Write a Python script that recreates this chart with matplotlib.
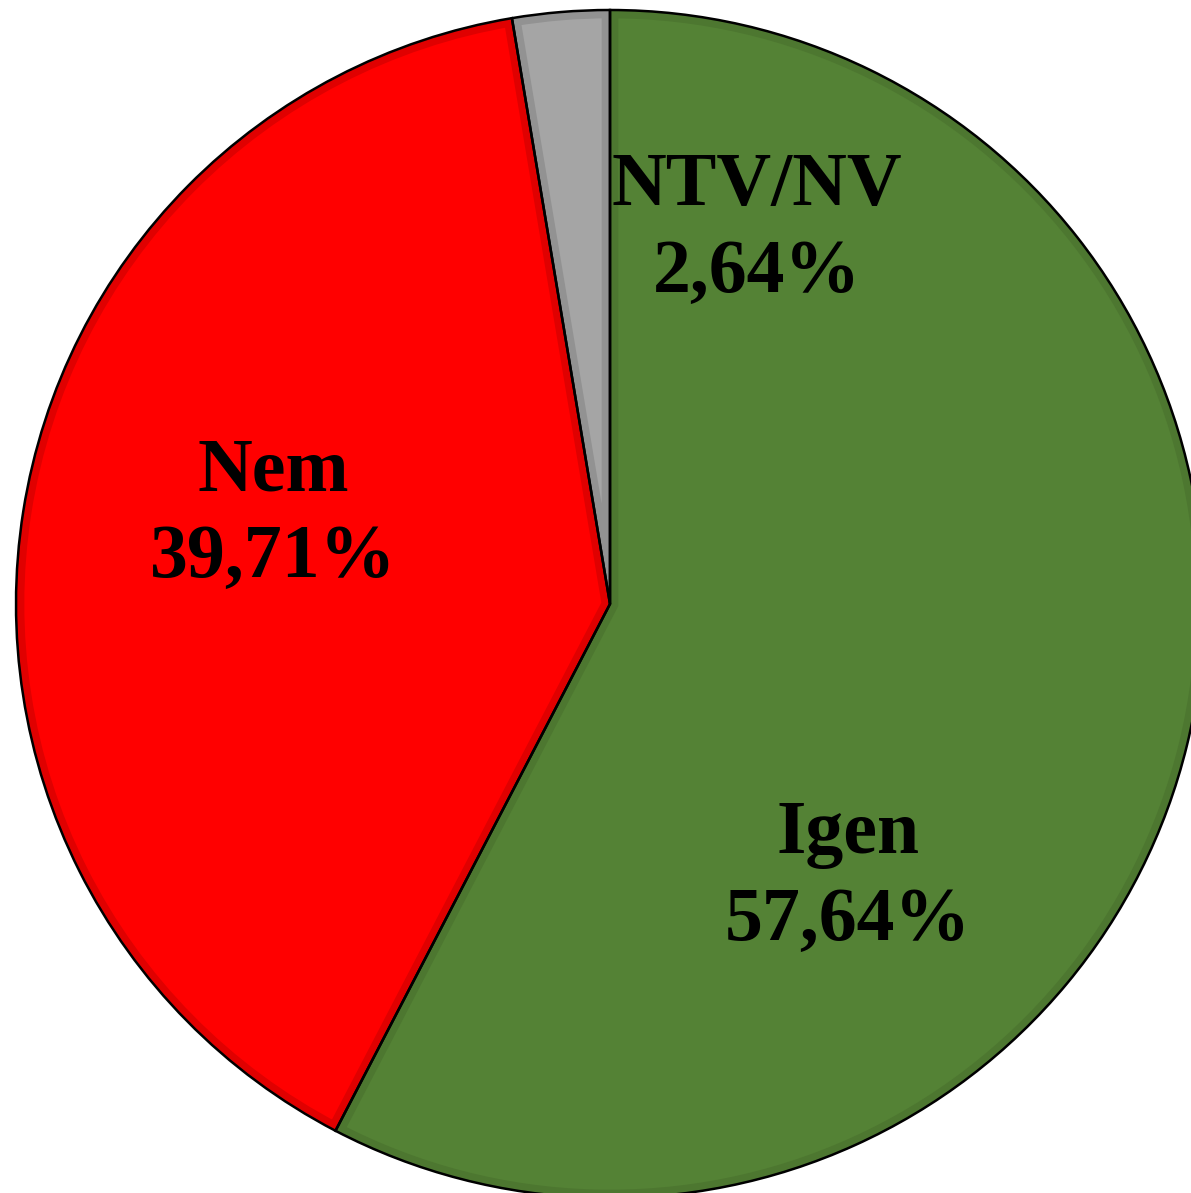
import matplotlib.pyplot as plt

labels = ['Igen', 'Nem', 'NTV/NV']
values = [57.64, 39.71, 2.64]
pct_text = ['57,64%', '39,71%', '2,64%']
colors = ['#548235', '#FF0000', '#A5A5A5']
inner_edge = ['#4D7730', '#E00000', '#929292']
label_pos = [(848, 315), (273, 678), (757, 963)]

W, H = 1191, 1193
fig = plt.figure(figsize=(W / 100, H / 100), dpi=100)
ax = fig.add_axes([0, 0, 1, 1])

center = (610, H - 604)
radius = 594

# filled wedges with a darker band just inside their outline
wedges, _ = ax.pie(values, colors=colors, startangle=90, counterclock=False,
                   center=center, radius=radius, frame=True,
                   wedgeprops=dict(linewidth=12, edgecolor='none'))
for w, ec in zip(wedges, inner_edge):
    w.set_edgecolor(ec)
    w.set_clip_on(True)
    w.set_clip_path(w)

# thin black outline on top
ax.pie(values, colors=['none'] * 3, startangle=90, counterclock=False,
       center=center, radius=radius, frame=True,
       wedgeprops=dict(linewidth=1.8, edgecolor='black', fill=False))

ax.set_xlim(0, W)
ax.set_ylim(0, H)
ax.set_aspect('auto')
ax.axis('off')

for lab, pct, (x, y) in zip(labels, pct_text, label_pos):
    ax.text(x, y, lab + '\n' + pct, ha='center', va='center',
            fontsize=54.5, fontweight='bold', family='Liberation Serif',
            linespacing=1.33)

fig.savefig('out.png', dpi=100)
